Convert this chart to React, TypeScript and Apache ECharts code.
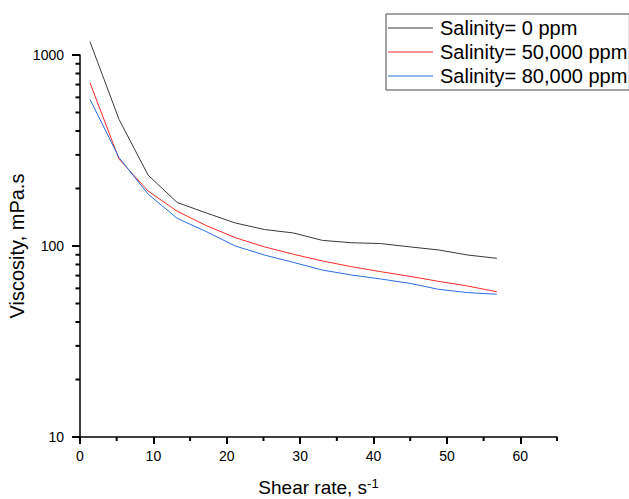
import React, { useEffect, useRef } from 'react';
import * as echarts from 'echarts';

const shearRate = [1.36, 5.32, 9.28, 13.24, 17.2, 21.16, 25.12, 29.08, 33.04, 37.0, 40.96, 44.92, 48.88, 52.84, 56.8];
const visc0 = [1174, 460, 235, 169, 149, 132, 122, 117, 107, 104, 103, 99, 95.3, 89.7, 86.2];
const visc50 = [716, 285, 194, 152, 128, 110.5, 99, 90.5, 83.5, 77.9, 73.4, 69.4, 65.3, 61.7, 57.6];
const visc80 = [586, 290, 187, 139.6, 119, 100, 89.7, 82.1, 74.8, 70.5, 67.2, 63.8, 59.3, 57, 55.9];
const seriesNames = ['Salinity= 0 ppm', 'Salinity= 50,000 ppm', 'Salinity= 80,000 ppm'];
const seriesColors = ['#3a3a3a', '#ff2a2a', '#2a6fe0'];
const xMinorTicks = [5, 15, 25, 35, 45, 55, 65];
const yMinorTicks = [20, 30, 40, 50, 60, 70, 80, 90, 200, 300, 400, 500, 600, 700, 800, 900];

const FONT = '"Liberation Sans", Arial, sans-serif';

export default function App() {
  const ref = useRef<HTMLDivElement>(null);
  useEffect(() => {
    if (!ref.current) return;
    const chart = echarts.init(ref.current, undefined, { renderer: 'svg' });
    const values = [visc0, visc50, visc80];
    chart.setOption({
      animation: false,
      backgroundColor: '#fff',
      textStyle: { fontFamily: FONT },
      grid: { left: 80, right: 72, top: 55, bottom: 62, outerBoundsMode: 'none' },
      legend: {
        orient: 'vertical',
        left: 386,
        top: 14,
        borderColor: '#444',
        borderWidth: 1,
        padding: [3, 2, 3, 2],
        itemWidth: 45,
        itemHeight: 1,
        itemGap: 2,
        icon: 'rect',
        textStyle: { fontSize: 20, lineHeight: 22, color: '#000', fontFamily: FONT, padding: [0, 0, 0, 2] },
        data: seriesNames,
      },
      xAxis: {
        type: 'value',
        min: 0,
        max: 65,
        interval: 10,
        axisLine: { show: true, lineStyle: { color: '#000', width: 1.5 } },
        splitLine: { show: false },
        axisTick: { show: true, length: 7, lineStyle: { color: '#000', width: 2 } },
        axisLabel: { fontSize: 14, color: '#000', margin: 12, fontFamily: FONT, showMaxLabel: false },
        name: 'Shear rate, s{sup|-1}',
        nameLocation: 'middle',
        nameGap: 40,
        nameMoveOverlap: false,
        nameTextStyle: {
          fontSize: 19,
          color: '#000',
          fontFamily: FONT,
          rich: { sup: { fontSize: 13, verticalAlign: 'top', padding: [0, 0, 8, 0], color: '#000', fontFamily: FONT } },
        },
      },
      yAxis: {
        type: 'log',
        logBase: 10,
        min: 10,
        max: 1000,
        axisLine: { show: true, lineStyle: { color: '#000', width: 1.5 } },
        splitLine: { show: false },
        axisTick: { show: true, length: 8, lineStyle: { color: '#000', width: 2 } },
        axisLabel: { fontSize: 14, color: '#000', margin: 16, fontFamily: FONT, formatter: (v: number) => String(v) },
        name: 'Viscosity, mPa.s',
        nameLocation: 'middle',
        nameGap: 53,
        nameMoveOverlap: false,
        nameTextStyle: { fontSize: 20, color: '#000', fontFamily: FONT },
      },
      series: values.map((vals, i) => ({
        name: seriesNames[i],
        type: 'line',
        symbol: 'none',
        clip: false,
        color: seriesColors[i],
        lineStyle: { color: seriesColors[i], width: 1 },
        data: shearRate.map((x, j) => [x, vals[j]]),
      })),
    });
    const graphics: any[] = [];
    const x0 = chart.convertToPixel({ xAxisIndex: 0 }, 0) as number;
    const yBase = chart.convertToPixel({ yAxisIndex: 0 }, 10) as number;
    xMinorTicks.forEach((v) => {
      const px = chart.convertToPixel({ xAxisIndex: 0 }, v) as number;
      graphics.push({ type: 'line', z: 10, shape: { x1: px, y1: yBase, x2: px, y2: yBase + 4 }, style: { stroke: '#000', lineWidth: 2 }, silent: true });
    });
    yMinorTicks.forEach((v) => {
      const py = chart.convertToPixel({ yAxisIndex: 0 }, v) as number;
      graphics.push({ type: 'line', z: 10, shape: { x1: x0 - 4.5, y1: py, x2: x0, y2: py }, style: { stroke: '#000', lineWidth: 2 }, silent: true });
    });
    chart.setOption({ graphic: graphics });
    return () => chart.dispose();
  }, []);
  return <div ref={ref} style={{ position: 'fixed', left: 0, top: 0, width: 629, height: 499 }} />;
}
